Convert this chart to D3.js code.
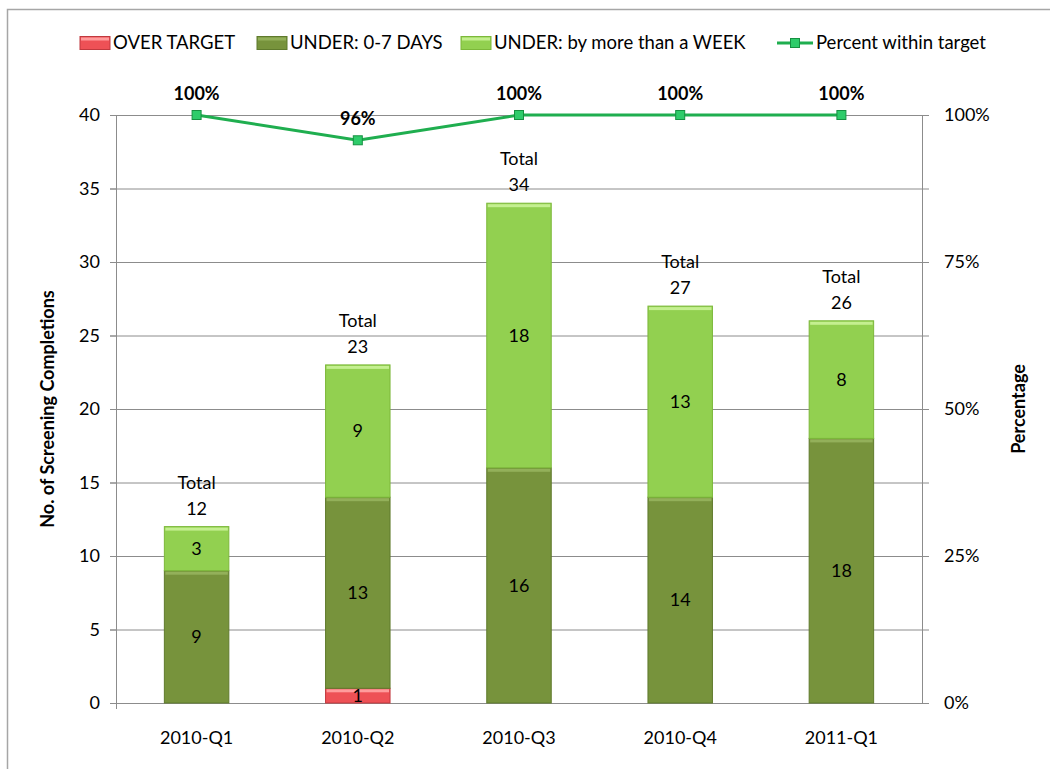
<!DOCTYPE html>
<html>
<head>
<meta charset="utf-8">
<script src="https://cdn.jsdelivr.net/npm/d3@7"></script>
<style>
  body { margin: 0; background: #fff; }
  text { font-family: Lato, "Open Sans", sans-serif; }
</style>
</head>
<body>
<div id="chart"></div>
<script>
// data
var quarters = ["2010-Q1", "2010-Q2", "2010-Q3", "2010-Q4", "2011-Q1"];
var overTarget = [0, 1, 0, 0, 0];
var under07 = [9, 13, 16, 14, 18];
var underWeek = [3, 9, 18, 13, 8];
var pctWithin = [1, 0.957, 1, 1, 1];
var pctLabels = ["100%", "96%", "100%", "100%", "100%"];
var countTicks = [0, 5, 10, 15, 20, 25, 30, 35, 40];
var pctTicks = [0, 0.25, 0.5, 0.75, 1];

var W = 1050, H = 769;
var margin = { top: 115, right: 128, bottom: 66, left: 116 },
    width = W - margin.left - margin.right,
    height = H - margin.top - margin.bottom;

var svg = d3.select("#chart").append("svg")
    .attr("width", W).attr("height", H);

var colors = {
    over: { fill: "#ee5156", hi: "#ff9c9c", stroke: "#c0393e" },
    u07: { fill: "#77933c", hi: "#93b05a", stroke: "#5f7a2c" },
    week: { fill: "#92d050", hi: "#c4ef90", stroke: "#7cb83a" }
};

// chart border
svg.append("rect").attr("x", 7.5).attr("y", 9.5)
    .attr("width", W + 20).attr("height", H + 20)
    .attr("fill", "none").attr("stroke", "#a6a6a6").attr("stroke-width", 1.5);

var g = svg.append("g").attr("transform", "translate(" + margin.left + "," + margin.top + ")");

var x = d3.scaleBand().domain(quarters).range([0, width]).paddingInner(0.6).paddingOuter(0.3);
var y = d3.scaleLinear().domain([0, 40]).range([height, 0]);
var y2 = d3.scaleLinear().domain([0, 1]).range([height, 0]);

// gridlines
g.selectAll(".grid").data(countTicks.slice(1)).enter().append("line")
    .attr("x1", -6).attr("x2", width + 7)
    .attr("y1", function (d) { return y(d) + 0.5; })
    .attr("y2", function (d) { return y(d) + 0.5; })
    .attr("stroke", "#8c8c8c").attr("stroke-width", 1);

// left axis
var yAxis = g.append("g").call(d3.axisLeft(y).tickValues(countTicks).tickSize(6).tickPadding(10));
yAxis.select(".domain").attr("stroke", "#8c8c8c").attr("d", "M0.5," + (height + 6) + "V0");
yAxis.selectAll(".tick line").attr("stroke", "#8c8c8c");
yAxis.selectAll("text").style("font-size", "18px").attr("fill", "#000");

// right axis
var y2Axis = g.append("g").attr("transform", "translate(" + width + ",0)")
    .call(d3.axisRight(y2).tickValues(pctTicks).tickFormat(d3.format(".0%")).tickSize(7).tickPadding(15));
y2Axis.select(".domain").attr("stroke", "#8c8c8c").attr("d", "M0.5,0V" + height);
y2Axis.selectAll(".tick line").attr("stroke", "#8c8c8c");
y2Axis.selectAll("text").style("font-size", "18px").attr("fill", "#000");

// bottom axis
var xAxis = g.append("g").attr("transform", "translate(0," + height + ")")
    .call(d3.axisBottom(x).tickSize(0).tickPadding(28));
xAxis.select(".domain").attr("stroke", "#8c8c8c").attr("d", "M-6,0.5H" + (width + 7));
xAxis.selectAll("text").style("font-size", "18px").attr("fill", "#000");

// stacked bars
var rows = quarters.map(function (q, i) {
    return { q: q, over: overTarget[i], u07: under07[i], week: underWeek[i] };
});
var stack = d3.stack().keys(["over", "u07", "week"])(rows);

var segs = [];
stack.forEach(function (s) {
    s.forEach(function (d) {
        if (d[1] - d[0] > 0) segs.push({ key: s.key, q: d.data.q, y0: d[0], y1: d[1] });
    });
});

var bars = g.selectAll(".seg").data(segs).enter().append("g").attr("class", "seg");

bars.append("rect")
    .attr("x", function (d) { return x(d.q); })
    .attr("y", function (d) { return y(d.y1); })
    .attr("width", x.bandwidth())
    .attr("height", function (d) { return y(d.y0) - y(d.y1); })
    .attr("fill", function (d) { return colors[d.key].fill; })
    .attr("stroke", function (d) { return colors[d.key].stroke; })
    .attr("stroke-width", 1);

// bevel highlight on top edge
bars.append("rect")
    .attr("x", function (d) { return x(d.q) + 1; })
    .attr("y", function (d) { return y(d.y1) + 1; })
    .attr("width", x.bandwidth() - 2)
    .attr("height", 3)
    .attr("fill", function (d) { return colors[d.key].hi; });

// segment labels
bars.append("text")
    .attr("x", function (d) { return x(d.q) + x.bandwidth() / 2; })
    .attr("y", function (d) { return (y(d.y0) + y(d.y1)) / 2; })
    .attr("dy", "0.35em")
    .attr("text-anchor", "middle")
    .style("font-size", "18px")
    .text(function (d) { return d.y1 - d.y0; });

// totals
rows.forEach(function (r) {
    var tot = r.over + r.u07 + r.week;
    var cx = x(r.q) + x.bandwidth() / 2;
    var t = g.append("text").attr("text-anchor", "middle").style("font-size", "18px");
    t.append("tspan").attr("x", cx).attr("y", y(tot) - 38).text("Total");
    t.append("tspan").attr("x", cx).attr("y", y(tot) - 12).text(tot);
});

// percent line
var cxOf = function (d, i) { return x(quarters[i]) + x.bandwidth() / 2; };
g.append("path").datum(pctWithin)
    .attr("d", d3.line().x(cxOf).y(function (d) { return y2(d); }))
    .attr("fill", "none").attr("stroke", "#1fae4f").attr("stroke-width", 3);

g.selectAll(".mk").data(pctWithin).enter().append("rect")
    .attr("x", function (d, i) { return cxOf(d, i) - 4.5; })
    .attr("y", function (d) { return y2(d) - 4.5; })
    .attr("width", 9).attr("height", 9)
    .attr("fill", "#2ecc6a").attr("stroke", "#169041").attr("stroke-width", 1);

g.selectAll(".pl").data(pctWithin).enter().append("text")
    .attr("x", cxOf)
    .attr("y", function (d) { return y2(d) - 15; })
    .attr("text-anchor", "middle")
    .style("font-size", "18px").style("font-weight", "bold")
    .text(function (d, i) { return pctLabels[i]; });

// axis titles
svg.append("text")
    .attr("transform", "translate(54," + (margin.top + height / 2) + ") rotate(-90)")
    .attr("text-anchor", "middle").style("font-size", "18px").style("font-weight", "bold")
    .text("No. of Screening Completions");
svg.append("text")
    .attr("transform", "translate(1025," + (margin.top + height / 2) + ") rotate(-90)")
    .attr("text-anchor", "middle").style("font-size", "18px").style("font-weight", "bold")
    .text("Percentage");

// legend
var legendItems = [
    { label: "OVER TARGET", key: "over", x: 80 },
    { label: "UNDER: 0-7 DAYS", key: "u07", x: 257 },
    { label: "UNDER: by more than a WEEK", key: "week", x: 461 },
    { label: "Percent within target", line: true, x: 777 }
];
var lg = svg.append("g").attr("transform", "translate(0,43)");
legendItems.forEach(function (it) {
    if (it.line) {
        lg.append("line").attr("x1", it.x).attr("x2", it.x + 36).attr("y1", 0).attr("y2", 0)
            .attr("stroke", "#1fae4f").attr("stroke-width", 3);
        lg.append("rect").attr("x", it.x + 13.5).attr("y", -4.5).attr("width", 9).attr("height", 9)
            .attr("fill", "#2ecc6a").attr("stroke", "#169041");
        lg.append("text").attr("x", it.x + 39).attr("y", 0).attr("dy", "0.35em")
            .style("font-size", "18.5px").text(it.label);
    } else {
        var c = colors[it.key];
        lg.append("rect").attr("x", it.x).attr("y", -6.5).attr("width", 30).attr("height", 13)
            .attr("fill", c.fill).attr("stroke", c.stroke);
        lg.append("rect").attr("x", it.x + 1).attr("y", -5.5).attr("width", 28).attr("height", 3)
            .attr("fill", c.hi);
        lg.append("text").attr("x", it.x + 33).attr("y", 0).attr("dy", "0.35em")
            .style("font-size", "18.5px").text(it.label);
    }
});
</script>
</body>
</html>
